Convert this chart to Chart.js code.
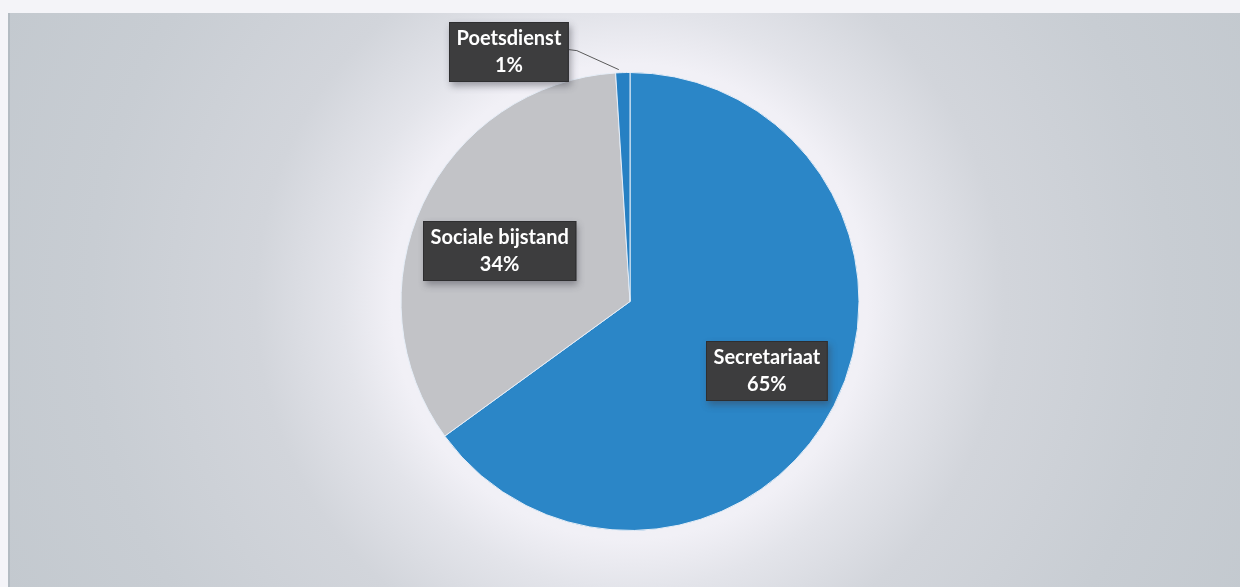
<!DOCTYPE html>
<html>
<head>
<meta charset="utf-8">
<title>Verdeling per dienst</title>
<script src="https://cdn.jsdelivr.net/npm/chart.js@4/dist/chart.umd.min.js"></script>
<style>
  html, body { margin: 0; padding: 0; background: #f4f4f8; }
  #wrap { width: 1240px; height: 587px; position: relative; }
</style>
</head>
<body>
<div id="wrap"><canvas id="c" width="1240" height="587"></canvas></div>
<script>
// Share of each department (percent)
const categories = ['Secretariaat', 'Sociale bijstand', 'Poetsdienst'];
const shares = [65, 34, 1];
const valueLabels = ['65%', '34%', '1%'];

const sliceColors = ['#2b86c7', '#c2c3c7', '#2680c3'];

// Where each data label sits: fraction of radius along the slice's mid-angle plus a nudge
const labelPlacement = [
  { r: 0.67, dx: 0, dy: 0, leader: false },
  { r: 0.63, dx: 0, dy: 11, leader: false },
  { r: 1.0, dx: -114, dy: -21, leader: true }
];

// Soft grey backdrop with a white glow around the pie
const backdrop = {
  id: 'backdrop',
  beforeDraw(chart) {
    const ctx = chart.ctx;
    const meta = chart.getDatasetMeta(0);
    const arc = meta.data[0];
    const cx = arc.x, cy = arc.y;
    ctx.save();
    ctx.fillStyle = '#f4f4f8';
    ctx.fillRect(0, 0, chart.width, chart.height);
    const g = ctx.createRadialGradient(cx, cy, 0, cx, cy, 720);
    g.addColorStop(0, '#f3f2f8');
    g.addColorStop(0.33, '#f1f0f6');
    g.addColorStop(0.40, '#e3e4ea');
    g.addColorStop(0.52, '#d2d5db');
    g.addColorStop(0.75, '#c8cdd3');
    g.addColorStop(1, '#c2c8ce');
    ctx.fillStyle = g;
    ctx.fillRect(8, 13, chart.width - 8, chart.height - 13);
    ctx.fillStyle = 'rgba(150,160,170,0.35)';
    ctx.fillRect(8, 13, 2, chart.height - 13);
    ctx.restore();
  }
};

// Dark callout boxes holding category name and percentage
const callouts = {
  id: 'callouts',
  afterDatasetsDraw(chart) {
    const ctx = chart.ctx;
    const meta = chart.getDatasetMeta(0);
    ctx.save();
    ctx.font = 'bold 20px Lato, "Open Sans", sans-serif';
    meta.data.forEach((arc, i) => {
      const p = labelPlacement[i];
      const mid = (arc.startAngle + arc.endAngle) / 2;
      const ex = arc.x + Math.cos(mid) * arc.outerRadius;
      const ey = arc.y + Math.sin(mid) * arc.outerRadius;
      const ax = arc.x + Math.cos(mid) * arc.outerRadius * p.r + p.dx;
      const ay = arc.y + Math.sin(mid) * arc.outerRadius * p.r + p.dy;
      const w = Math.max(ctx.measureText(categories[i]).width, ctx.measureText(valueLabels[i]).width) + 15;
      const h = 60;
      const bx = Math.round(ax - w / 2), by = Math.round(ay - h / 2);

      if (p.leader) {
        ctx.strokeStyle = '#5a5a5a';
        ctx.lineWidth = 1;
        ctx.beginPath();
        ctx.moveTo(bx + w, ay - 2);
        ctx.lineTo(bx + w + 8, ay - 1);
        ctx.lineTo(ex - 4, ey - 3);
        ctx.stroke();
      }

      ctx.save();
      ctx.shadowColor = 'rgba(60,60,70,0.45)';
      ctx.shadowBlur = 7;
      ctx.shadowOffsetX = 2;
      ctx.shadowOffsetY = 4;
      ctx.fillStyle = '#3d3d3e';
      ctx.fillRect(bx, by, w, h);
      ctx.restore();
      ctx.strokeStyle = '#2e2e30';
      ctx.lineWidth = 1;
      ctx.strokeRect(bx + 0.5, by + 0.5, w - 1, h - 1);

      ctx.fillStyle = '#ffffff';
      ctx.textAlign = 'center';
      ctx.textBaseline = 'middle';
      ctx.fillText(categories[i], bx + w / 2, by + h / 2 - 13);
      ctx.fillText(valueLabels[i], bx + w / 2, by + h / 2 + 14);
    });
    ctx.restore();
  }
};

new Chart(document.getElementById('c'), {
  type: 'pie',
  data: {
    labels: categories,
    datasets: [{
      data: shares,
      backgroundColor: sliceColors,
      borderColor: '#e6eef8',
      borderWidth: 1
    }]
  },
  options: {
    responsive: false,
    animation: false,
    devicePixelRatio: 1,
    layout: { padding: { top: 72, bottom: 56, left: 172, right: 152 } },
    plugins: {
      legend: { display: false },
      tooltip: { enabled: false },
      title: { display: false }
    }
  },
  plugins: [backdrop, callouts]
});
</script>
</body>
</html>
